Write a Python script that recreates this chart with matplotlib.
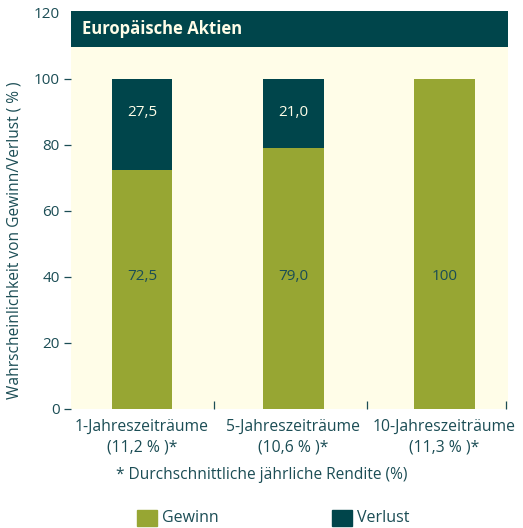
import numpy as np
import matplotlib
matplotlib.use('Agg')
import matplotlib.pyplot as plt
from matplotlib.patches import Rectangle

plt.rcParams['font.family'] = ['Open Sans', 'DejaVu Sans']

# Daten
kategorien = ['1-Jahreszeiträume\n(11,2 % )*', '5-Jahreszeiträume\n(10,6 % )*', '10-Jahreszeiträume\n(11,3 % )*']
gewinn = [72.5, 79.0, 100.0]
verlust = [27.5, 21.0, 0.0]
gewinn_text = ['72,5', '79,0', '100']
verlust_text = ['27,5', '21,0', '']

gruen = '#97a633'
petrol = '#00454b'
creme = '#fffde8'
textfarbe = '#1b4d55'

fig = plt.figure(figsize=(5.23, 5.28), dpi=100)
ax = fig.add_axes([71 / 523, 119 / 528, 437 / 523, 396 / 528])
ax.set_facecolor(creme)

x = np.arange(len(kategorien))
ax.bar(x, gewinn, width=0.4, color=gruen, zorder=2)
ax.bar(x, verlust, width=0.4, bottom=gewinn, color=petrol, zorder=2)

# Werte in den Balken
for i in range(len(x)):
    ax.text(x[i], 40, gewinn_text[i], ha='center', va='center', fontsize=11, color=textfarbe, zorder=3)
    if verlust_text[i]:
        ax.text(x[i], 90, verlust_text[i], ha='center', va='center', fontsize=11, color=creme, zorder=3)

ax.set_xlim(-0.47, 2.42)
ax.set_ylim(0, 120)

# Kopfzeile
ax.add_patch(Rectangle((0, 109.6), 1, 11, transform=ax.get_yaxis_transform(), color=petrol,
                       clip_on=False, zorder=4, lw=0))
ax.text(-0.395, 115.2, 'Europäische Aktien', ha='left', va='center', fontsize=12, fontweight='bold',
        color=creme, zorder=5)

for s in ax.spines.values():
    s.set_visible(False)

ax.set_yticks([0, 20, 40, 60, 80, 100, 120])
ax.tick_params(axis='y', length=5, width=0.9, color=textfarbe, labelcolor=textfarbe, labelsize=11, pad=3)
ax.yaxis.get_major_ticks()[-1].tick1line.set_visible(False)

ax.set_xticks(x)
ax.set_xticklabels(kategorien, linespacing=1.4)
ax.tick_params(axis='x', which='major', length=0, labelcolor=textfarbe, labelsize=11.3, pad=7)
ax.set_xticks([0.475, 1.49, 2.41], minor=True)
ax.tick_params(axis='x', which='minor', direction='in', length=6, width=0.9, color=textfarbe)

ax.set_ylabel('Wahrscheinlichkeit von Gewinn/Verlust ( % )', fontsize=11.2, color=textfarbe)
ax.yaxis.set_label_coords(-0.11, 0.425)

fig.text(0.5, 1 - 475 / 528, '* Durchschnittliche jährliche Rendite (%)', ha='center', va='center',
         fontsize=11.2, color=textfarbe)

# Legende
fig.patches.append(Rectangle((137 / 523, 1 - 526 / 528), 20 / 523, 16 / 528, transform=fig.transFigure,
                             color=gruen, figure=fig))
fig.text(162 / 523, 1 - 518 / 528, 'Gewinn', ha='left', va='center', fontsize=11.5, color=textfarbe)
fig.patches.append(Rectangle((332 / 523, 1 - 526 / 528), 20 / 523, 16 / 528, transform=fig.transFigure,
                             color=petrol, figure=fig))
fig.text(357 / 523, 1 - 518 / 528, 'Verlust', ha='left', va='center', fontsize=11.5, color=textfarbe)

fig.savefig('out.png', dpi=100, facecolor='white')
